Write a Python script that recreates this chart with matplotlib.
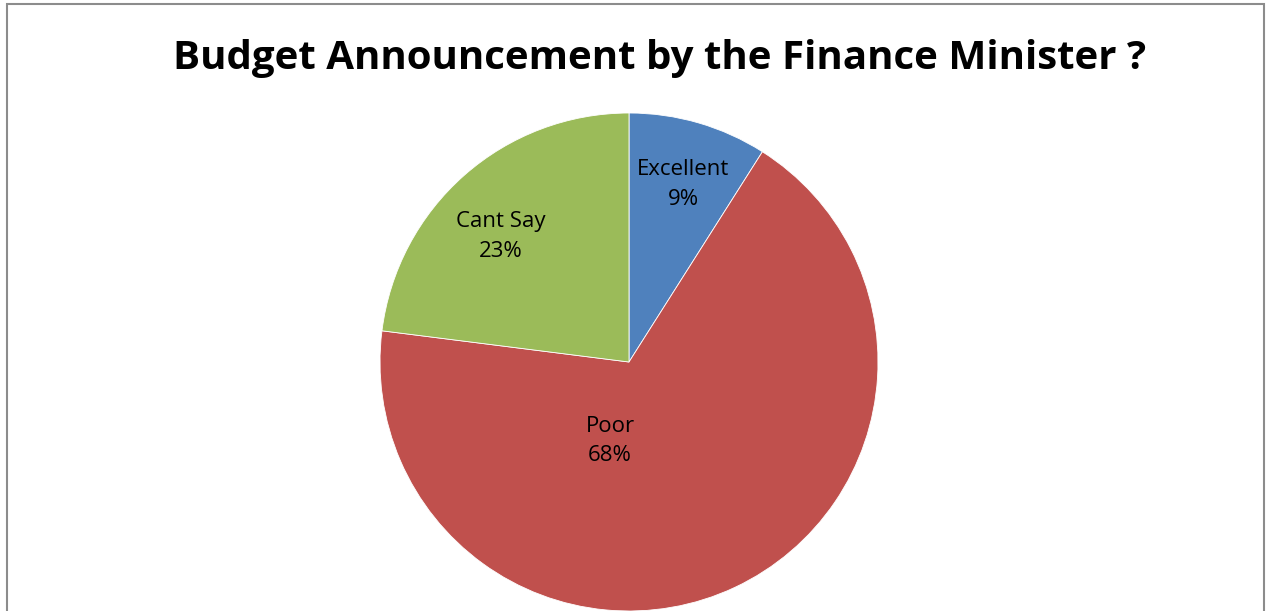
import matplotlib
matplotlib.use("Agg")
import matplotlib.pyplot as plt
from matplotlib.patches import Rectangle

# Survey responses on the budget announcement
categories = ["Excellent", "Poor", "Cant Say"]
shares = [9, 68, 23]
colors = ["#4F81BD", "#C0504D", "#9BBB59"]
title = "Budget Announcement by the Finance Minister ?"

# label anchor points (pie data units, radius = 1)
label_pos = [(0.218, 0.712), (-0.076, -0.317), (-0.515, 0.505)]

W, H = 1268, 611
fig = plt.figure(figsize=(W / 100, H / 100), dpi=100)
fig.patch.set_facecolor("white")

# chart-area border
fig.add_artist(Rectangle((6.5 / W, -0.01), (1264 - 6.5) / W, (H - 3.5) / H + 0.01,
                         transform=fig.transFigure, fill=False,
                         edgecolor="#8C8C8C", linewidth=1.5))

cx, cy, r = 629, 362, 249
ax = fig.add_axes([(cx - r) / W, (H - cy - r) / H, 2 * r / W, 2 * r / H])

wedges, _ = ax.pie(shares, colors=colors, startangle=90, counterclock=False,
                   radius=1, center=(0, 0), frame=True,
                   wedgeprops=dict(edgecolor="white", linewidth=0.6))
ax.set_xlim(-1, 1)
ax.set_ylim(-1, 1)
ax.axis("off")

for name, val, (x, y) in zip(categories, shares, label_pos):
    ax.text(x, y, f"{name}\n{val}%", ha="center", va="center",
            fontsize=16, family="Open Sans", color="black", linespacing=1.55)

fig.text(660 / W, 1 - 59 / H, title, ha="center", va="center",
         fontsize=29, fontweight="bold", family="Open Sans", color="black")

fig.savefig("out.png", dpi=100, facecolor="white")
